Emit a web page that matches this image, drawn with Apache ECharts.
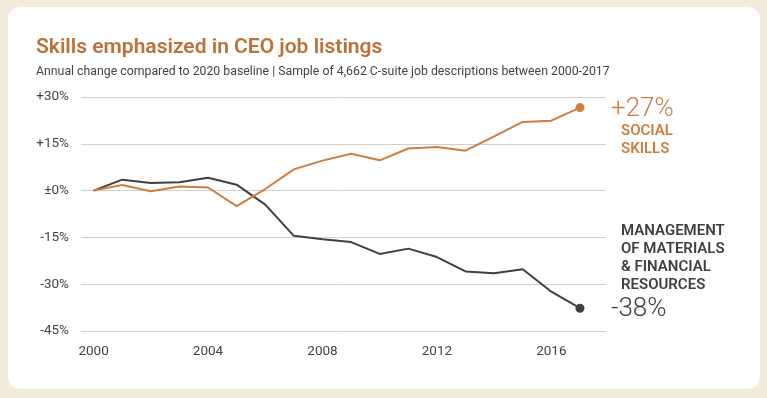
<!DOCTYPE html>
<html>
<head>
<meta charset="utf-8">
<script src="https://cdn.jsdelivr.net/npm/echarts@6/dist/echarts.min.js"></script>
<style>
  html, body { margin: 0; padding: 0; background: #f1ecdc; }
  #chart { width: 767px; height: 398px; }
</style>
</head>
<body>
<div id="chart"></div>
<script>
// data
var years = [2000, 2001, 2002, 2003, 2004, 2005, 2006, 2007, 2008,
  2009, 2010, 2011, 2012, 2013, 2014, 2015, 2016, 2017]
var socialSkills = [0, 1.8, -0.2, 1.3, 1.0, -5.0, 0.5, 6.8, 9.6,
  11.8, 9.7, 13.5, 14.0, 12.8, 17.4, 22.0, 22.4, 26.6]
var managementRes = [0, 3.5, 2.4, 2.7, 4.1, 1.9, -4.5, -14.5, -15.6,
  -16.5, -20.3, -18.6, -21.3, -25.9, -26.5, -25.2, -32.4, -37.7]
var xTickLabels = [2000, 2004, 2008, 2012, 2016]
var yTicks = [-45, -30, -15, 0, 15, 30]

var ORANGE = '#cd7e40'
var TITLE_ORANGE = '#bd7139'
var DARK = '#404040'
var FONT = 'Roboto, "Noto Sans", sans-serif'

function toSeriesData(vals) {
  return vals.map(function(v, i) {
    if (i === vals.length - 1) {
      return { value: [years[i], v], symbol: 'circle', symbolSize: 9 }
    }
    return [years[i], v]
  })
}

function pct(v) {
  if (v === 0) return '±0%'
  return (v > 0 ? '+' : '-') + Math.abs(v) + '%'
}

var chart = echarts.init(document.getElementById('chart'), null, { renderer: 'canvas' })

var cardRect = {
  type: 'rect',
  z: -10,
  silent: true,
  shape: { x: 8, y: 7, width: 752, height: 382, r: 13 },
  style: { fill: '#ffffff' }
}

chart.setOption({
  animation: false,
  backgroundColor: 'transparent',
  textStyle: { fontFamily: FONT },
  title: {
    text: 'Skills emphasized in CEO job listings',
    subtext: 'Annual change compared to 2020 baseline | Sample of 4,662 C-suite job descriptions between 2000-2017',
    left: 31,
    top: 32,
    itemGap: 8,
    textStyle: { color: TITLE_ORANGE, fontSize: 21, fontWeight: 600, fontFamily: FONT },
    subtextStyle: { color: '#444', fontSize: 12.3, fontFamily: FONT }
  },
  grid: { left: 81, right: 161, top: 97, bottom: 67 },
  xAxis: {
    type: 'value',
    min: 1999.56,
    max: 2017.91,
    axisLine: { show: false },
    axisTick: { show: false },
    splitLine: { show: false },
    axisLabel: {
      customValues: xTickLabels,
      color: '#444',
      fontSize: 13.5,
      margin: 14,
      formatter: function(v) { return String(v) }
    }
  },
  yAxis: {
    type: 'value',
    min: yTicks[0],
    max: yTicks[yTicks.length - 1],
    interval: 15,
    axisLine: { show: false },
    axisTick: { show: false },
    splitLine: { lineStyle: { color: '#cfcfcf', width: 1 } },
    axisLabel: {
      color: '#444',
      fontSize: 13.5,
      margin: 12,
      formatter: pct
    }
  },
  graphic: [cardRect],
  series: [{
    name: 'Social skills',
    type: 'line',
    symbol: 'none',
    data: toSeriesData(socialSkills),
    lineStyle: { color: ORANGE, width: 2 },
    itemStyle: { color: ORANGE },
    z: 3
  }, {
    name: 'Management of materials & financial resources',
    type: 'line',
    symbol: 'none',
    data: toSeriesData(managementRes),
    lineStyle: { color: DARK, width: 2 },
    itemStyle: { color: DARK },
    z: 2
  }]
})

// end annotations, placed next to the last point of each line
var lastIdx = years.length - 1
var pS = chart.convertToPixel({ gridIndex: 0 }, [years[lastIdx], socialSkills[lastIdx]])
var pM = chart.convertToPixel({ gridIndex: 0 }, [years[lastIdx], managementRes[lastIdx]])
var bigX = 611
var nameX = 621

chart.setOption({
  graphic: [cardRect, {
    type: 'text', x: bigX, y: pS[1] + 2,
    style: { text: pct(Math.round(socialSkills[lastIdx])), fill: ORANGE, font: '300 26px ' + FONT, textVerticalAlign: 'middle' }
  }, {
    type: 'text', x: nameX, y: pS[1] + 15,
    style: { text: 'SOCIAL\nSKILLS', fill: ORANGE, font: '600 15px ' + FONT, lineHeight: 18 }
  }, {
    type: 'text', x: nameX, y: pM[1] - 86,
    style: { text: 'MANAGEMENT\nOF MATERIALS\n& FINANCIAL\nRESOURCES', fill: DARK, font: '600 15px ' + FONT, lineHeight: 18 }
  }, {
    type: 'text', x: bigX, y: pM[1] + 1,
    style: { text: pct(Math.round(managementRes[lastIdx])), fill: DARK, font: '300 26px ' + FONT, textVerticalAlign: 'middle' }
  }]
})
</script>
</body>
</html>
